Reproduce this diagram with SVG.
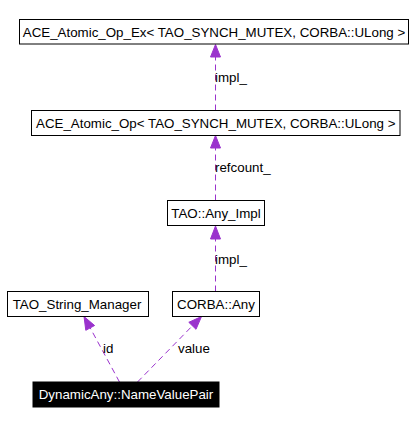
<svg xmlns="http://www.w3.org/2000/svg" width="418" height="424" viewBox="0 0 418 424">
<style>
.node rect{fill:#ffffff;stroke:#000000;stroke-width:1}
.node text{font-family:"Liberation Sans",Arial,sans-serif;font-size:13.33px;fill:#000000;text-anchor:middle}
#n_nvp rect{fill:#000000}
#n_nvp text{fill:#ffffff}
.edge line{stroke:#9a32cd;stroke-width:1;stroke-dasharray:6,4}
.edge polygon{fill:#9a32cd;stroke:#9a32cd;stroke-width:1}
.lbl{font-family:"Liberation Sans",Arial,sans-serif;font-size:13.33px;fill:#000000}
</style>
<rect width="418" height="424" fill="#ffffff"/>
<g id="connectors">
<g class="edge" id="e_impl1">
<line x1="215.5" y1="110.5" x2="215.5" y2="57"/>
<polygon points="215.5,44.5 210.5,57 220.5,57"/>
<text class="lbl" x="215" y="82">impl_</text>
</g>
<g class="edge" id="e_refcount">
<line x1="215.5" y1="200.5" x2="215.5" y2="148"/>
<polygon points="215.5,135.5 210.5,148 220.5,148"/>
<text class="lbl" x="215" y="172">refcount_</text>
</g>
<g class="edge" id="e_impl2">
<line x1="215.5" y1="291.5" x2="215.5" y2="239"/>
<polygon points="215.5,226 210.5,239 220.5,239"/>
<text class="lbl" x="215" y="264">impl_</text>
</g>
<g class="edge" id="e_id">
<line x1="119.5" y1="382" x2="90.2" y2="327.9"/>
<polygon points="84,316.5 94.6,325.5 85.8,330.3"/>
<text class="lbl" x="103" y="353">id</text>
</g>
<g class="edge" id="e_value">
<line x1="137.5" y1="382" x2="192.4" y2="325.8"/>
<polygon points="201.5,316.5 196,329.3 188.8,322.3"/>
<text class="lbl" x="178" y="353">value</text>
</g>
</g>
<g class="node" id="n_opex">
<rect x="19.5" y="19.5" width="389" height="24.5"/>
<text x="214" y="36.5">ACE_Atomic_Op_Ex&lt; TAO_SYNCH_MUTEX, CORBA::ULong &gt;</text>
</g>
<g class="node" id="n_op">
<rect x="31.5" y="110.5" width="368.5" height="25"/>
<text x="215.75" y="127.5">ACE_Atomic_Op&lt; TAO_SYNCH_MUTEX, CORBA::ULong &gt;</text>
</g>
<g class="node" id="n_anyimpl">
<rect x="167.5" y="200.5" width="97" height="25"/>
<text x="216" y="217.5">TAO::Any_Impl</text>
</g>
<g class="node" id="n_strmgr">
<rect x="7.5" y="291.5" width="141" height="25"/>
<text x="77" y="308.5">TAO_String_Manager</text>
</g>
<g class="node" id="n_any">
<rect x="172.5" y="291.5" width="87" height="25"/>
<text x="216" y="308.5">CORBA::Any</text>
</g>
<g class="node" id="n_nvp">
<rect x="33" y="382" width="186" height="25"/>
<text x="126" y="399">DynamicAny::NameValuePair</text>
</g>
</svg>
